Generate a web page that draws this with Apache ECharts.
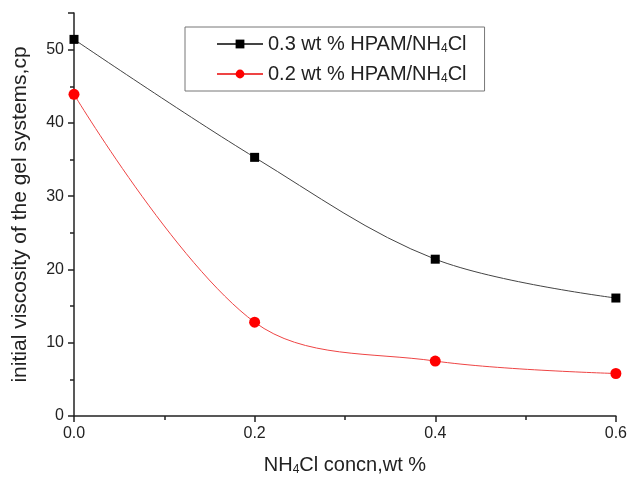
<!DOCTYPE html>
<html>
<head>
<meta charset="utf-8">
<script src="https://cdn.jsdelivr.net/npm/echarts@6/dist/echarts.min.js"></script>
<style>
  html, body { margin: 0; padding: 0; background: #fff; }
  #containerC { width: 630px; height: 481px; }
</style>
</head>
<body>
<div id="containerC"></div>
<script>
// NH4Cl concentration (wt %)
var concn = [0, 0.2, 0.4, 0.6];
// initial viscosity, cp
var hpam03 = [51.4, 35.3, 21.4, 16.1];
var hpam02 = [43.9, 12.8, 7.5, 5.8];

var dom = document.getElementById('containerC');
var myChart = echarts.init(dom, null, { renderer: 'canvas' });

var font = 'Liberation Sans, Arial, sans-serif';
var subRich = {
    n: { fontFamily: font, fontSize: 20, color: '#222', lineHeight: 22 },
    sub: { fontFamily: font, fontSize: 12, color: '#222', verticalAlign: 'bottom', lineHeight: 22, padding: [10, 0, 0, 0] }
};

function pairs(ys) {
    return concn.map(function (x, i) { return [x, ys[i]]; });
}

var option = {
    animation: false,
    grid: { left: 74, right: 13, top: 13, bottom: 63 },
    legend: {
        orient: 'vertical',
        left: 185,
        top: 27,
        padding: [6, 18, 6, 31],
        itemGap: 8,
        itemWidth: 46,
        itemHeight: 11,
        borderColor: '#777',
        borderWidth: 1,
        borderRadius: 0,
        data: ['0.3', '0.2'],
        formatter: function (name) {
            return '{n|' + name + ' wt % HPAM/NH}{sub|4}{n|Cl}';
        },
        textStyle: { rich: subRich, fontSize: 20 }
    },
    xAxis: {
        type: 'value',
        min: 0,
        max: 0.6,
        interval: 0.2,
        name: '{n|NH}{sub|4}{n|Cl concn,wt %}',
        nameLocation: 'middle',
        nameGap: 38,
        nameTextStyle: { rich: subRich },
        axisLine: { lineStyle: { color: '#222', width: 1.5 } },
        axisTick: { inside: false, length: 6, lineStyle: { color: '#222', width: 1.5 } },
        minorTick: { show: true, splitNumber: 2, length: 4, lineStyle: { color: '#222', width: 1.5 } },
        axisLabel: {
            color: '#222', fontFamily: font, fontSize: 16, margin: 10,
            formatter: function (v) { return v.toFixed(1); }
        },
        splitLine: { show: false }
    },
    yAxis: {
        type: 'value',
        min: 0,
        max: 55,
        interval: 10,
        name: 'initial viscosity of the gel systems,cp',
        nameLocation: 'middle',
        nameGap: 43,
        nameTextStyle: { color: '#222', fontFamily: font, fontSize: 21 },
        axisLine: { show: true, lineStyle: { color: '#222', width: 1.5 } },
        axisTick: { show: true, length: 6, lineStyle: { color: '#222', width: 1.5 } },
        minorTick: { show: true, splitNumber: 2, length: 4, lineStyle: { color: '#222', width: 1.5 } },
        axisLabel: {
            color: '#222', fontFamily: font, fontSize: 16, margin: 10,
            formatter: function (v) { return v > 50 ? '' : String(v); }
        },
        splitLine: { show: false }
    },
    series: [
        {
            name: '0.3',
            type: 'line',
            smooth: 0.35,
            symbol: 'rect',
            symbolSize: 9,
            clip: false,
            itemStyle: { color: '#000' },
            lineStyle: { color: '#444', width: 1 },
            data: pairs(hpam03)
        },
        {
            name: '0.2',
            type: 'line',
            smooth: 0.35,
            symbol: 'circle',
            symbolSize: 11,
            clip: false,
            itemStyle: { color: '#ff0000' },
            lineStyle: { color: '#ee4444', width: 1 },
            data: pairs(hpam02)
        }
    ]
};

if (option && typeof option === 'object') {
    myChart.setOption(option);
}
window.addEventListener('resize', myChart.resize);
</script>
</body>
</html>
